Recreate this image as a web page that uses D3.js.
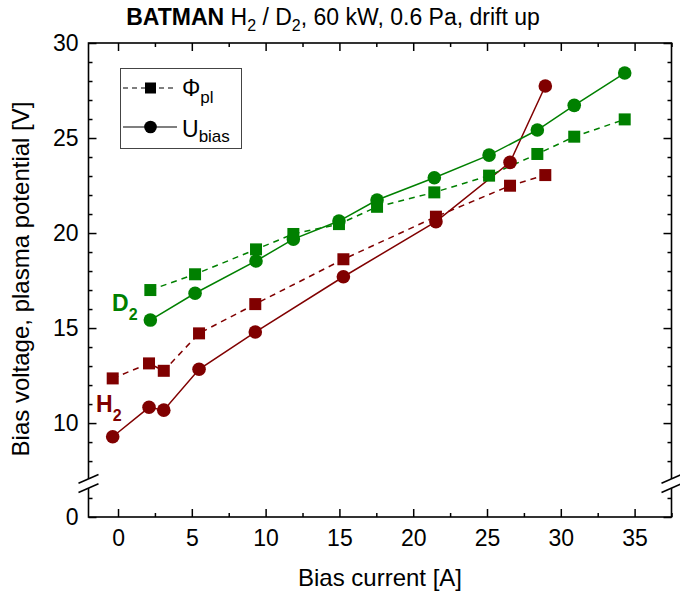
<!DOCTYPE html>
<html>
<head>
<meta charset="utf-8">
<script src="https://cdn.jsdelivr.net/npm/d3@7"></script>
<style>
  body { margin: 0; background: #fff; }
  text { font-family: "Liberation Sans", Arial, sans-serif; }
</style>
</head>
<body>
<svg width="680" height="595"></svg>
<script>
// data
const h2Current = [-0.36, 2.1, 3.1, 5.49, 9.3, 15.27, 21.54, 26.56, 28.95];
const h2Phi = [12.35, 13.14, 12.75, 14.72, 16.26, 18.62, 20.86, 22.49, 23.05];
const h2Ubias = [9.28, 10.83, 10.68, 12.83, 14.79, 17.7, 20.6, 23.72, 27.74];

const d2Current = [2.19, 5.22, 9.35, 11.88, 14.97, 17.55, 21.43, 25.14, 28.41, 30.91, 34.33];
const d2Phi = [17.0, 17.83, 19.14, 19.95, 20.47, 21.38, 22.14, 23.02, 24.16, 25.07, 25.98];
const d2Ubias = [15.42, 16.83, 18.53, 19.68, 20.63, 21.74, 22.91, 24.1, 25.42, 26.72, 28.42];

const xTicks = [0, 5, 10, 15, 20, 25, 30, 35];
const xMinor = [2.5, 7.5, 12.5, 17.5, 22.5, 27.5, 32.5, 37.5];
const yTicks = [0, 10, 15, 20, 25, 30];
const yMinor = [1, 8, 9, 11, 12, 13, 14, 16, 17, 18, 19, 21, 22, 23, 24, 26, 27, 28, 29];

var svg = d3.select('svg');

const red = '#800000';
const green = '#008000';

const plot = {left: 88.5, right: 671.5, top: 43, bottom: 517};
const yBreak = 483.5;

const xScale = d3.scaleLinear()
  .domain([-2, 37.5])
  .range([plot.left, plot.right]);

// broken axis: 0..1.76 below the break, 6.82..30 above it
const yScale = d3.scaleLinear()
  .domain([0, 1.76, 6.82, 30])
  .range([plot.bottom, yBreak, yBreak, plot.top]);

// title
const title = svg.append('text')
  .attr('x', 333).attr('y', 25)
  .attr('text-anchor', 'middle')
  .style('font-size', '23px');
title.append('tspan').style('font-weight', 'bold').text('BATMAN');
title.append('tspan').text(' H');
title.append('tspan').attr('dy', 6).style('font-size', '16px').text('2');
title.append('tspan').attr('dy', -6).text(' / D');
title.append('tspan').attr('dy', 6).style('font-size', '16px').text('2');
title.append('tspan').attr('dy', -6).text(', 60 kW, 0.6 Pa, drift up');

// axes
function styleAxis(g) {
  g.select('.domain').remove();
  g.selectAll('line').attr('stroke', '#000').attr('stroke-width', 1.5);
  g.selectAll('text').style('font-size', '23px').attr('fill', '#000')
    .style('font-family', '"Liberation Sans", Arial, sans-serif');
}

svg.append('g').attr('transform', `translate(${plot.left},0)`)
  .call(d3.axisLeft(yScale).tickValues(yTicks).tickSize(-8).tickPadding(10))
  .call(styleAxis);
svg.append('g').attr('transform', `translate(${plot.left},0)`)
  .call(d3.axisLeft(yScale).tickValues(yMinor).tickSize(-4).tickFormat(''))
  .call(styleAxis);
svg.append('g').attr('transform', `translate(${plot.right},0)`)
  .call(d3.axisRight(yScale).tickValues(yTicks).tickSize(-8).tickFormat(''))
  .call(styleAxis);
svg.append('g').attr('transform', `translate(${plot.right},0)`)
  .call(d3.axisRight(yScale).tickValues(yMinor).tickSize(-4).tickFormat(''))
  .call(styleAxis);

svg.append('g').attr('transform', `translate(0,${plot.bottom})`)
  .call(d3.axisBottom(xScale).tickValues(xTicks).tickSize(-8).tickPadding(13))
  .call(styleAxis);
svg.append('g').attr('transform', `translate(0,${plot.bottom})`)
  .call(d3.axisBottom(xScale).tickValues(xMinor).tickSize(-4).tickFormat(''))
  .call(styleAxis);
svg.append('g').attr('transform', `translate(0,${plot.top})`)
  .call(d3.axisTop(xScale).tickValues(xTicks).tickSize(-8).tickFormat(''))
  .call(styleAxis);
svg.append('g').attr('transform', `translate(0,${plot.top})`)
  .call(d3.axisTop(xScale).tickValues(xMinor).tickSize(-4).tickFormat(''))
  .call(styleAxis);

// frame
svg.append('rect')
  .attr('x', plot.left).attr('y', plot.top)
  .attr('width', plot.right - plot.left).attr('height', plot.bottom - plot.top)
  .attr('fill', 'none').attr('stroke', '#000').attr('stroke-width', 1.6);

// axis break marks
[plot.left, plot.right].forEach(x0 => {
  svg.append('polygon')
    .attr('points', [[x0 - 9, yBreak - 0.6], [x0 + 9, yBreak - 8.6], [x0 + 9, yBreak + 0.6], [x0 - 9, yBreak + 8.6]].join(' '))
    .attr('fill', '#fff');
  [-4.6, 4.6].forEach(off => {
    svg.append('line')
      .attr('x1', x0 - 10).attr('y1', yBreak + off + 4.4)
      .attr('x2', x0 + 10).attr('y2', yBreak + off - 4.4)
      .attr('stroke', '#000').attr('stroke-width', 1.5);
  });
});

// axis titles
svg.append('text')
  .attr('x', (plot.left + plot.right) / 2).attr('y', 586)
  .attr('text-anchor', 'middle')
  .style('font-size', '24px')
  .text('Bias current [A]');

svg.append('text')
  .attr('transform', 'translate(29,279) rotate(-90)')
  .attr('text-anchor', 'middle')
  .style('font-size', '24px')
  .text('Bias voltage, plasma potential [V]');

// series
const series = [
  { xs: h2Current, ys: h2Phi, color: red, dashed: true, marker: 'square' },
  { xs: h2Current, ys: h2Ubias, color: red, dashed: false, marker: 'circle' },
  { xs: d2Current, ys: d2Phi, color: green, dashed: true, marker: 'square' },
  { xs: d2Current, ys: d2Ubias, color: green, dashed: false, marker: 'circle' }
];

const line = d3.line()
  .x(d => xScale(d[0]))
  .y(d => yScale(d[1]));

series.forEach(s => {
  const pts = s.xs.map((x, i) => [x, s.ys[i]]);
  svg.append('path')
    .datum(pts)
    .attr('d', line)
    .attr('fill', 'none')
    .attr('stroke', s.color)
    .attr('stroke-width', 1.5)
    .attr('stroke-dasharray', s.dashed ? '6,5' : null);
});

series.forEach(s => {
  const pts = s.xs.map((x, i) => [x, s.ys[i]]);
  if (s.marker === 'square') {
    svg.selectAll(null).data(pts)
      .enter().append('rect')
      .attr('x', d => xScale(d[0]) - 6)
      .attr('y', d => yScale(d[1]) - 6)
      .attr('width', 12).attr('height', 12)
      .attr('fill', s.color);
  } else {
    svg.selectAll(null).data(pts)
      .enter().append('circle')
      .attr('cx', d => xScale(d[0]))
      .attr('cy', d => yScale(d[1]))
      .attr('r', 6.8)
      .attr('fill', s.color);
  }
});

// series labels
const d2Label = svg.append('text')
  .attr('x', 112).attr('y', 311)
  .attr('fill', green).style('font-weight', 'bold').style('font-size', '23px');
d2Label.append('tspan').text('D');
d2Label.append('tspan').attr('dy', 9).style('font-size', '16px').text('2');

const h2Label = svg.append('text')
  .attr('x', 96).attr('y', 412)
  .attr('fill', red).style('font-weight', 'bold').style('font-size', '23px');
h2Label.append('tspan').text('H');
h2Label.append('tspan').attr('dy', 9).style('font-size', '16px').text('2');

// legend
const legend = svg.append('g');
legend.append('rect')
  .attr('x', 120.5).attr('y', 68.5)
  .attr('width', 121).attr('height', 80)
  .attr('fill', '#fff').attr('stroke', '#444').attr('stroke-width', 1);

legend.append('line')
  .attr('x1', 123).attr('x2', 177).attr('y1', 88).attr('y2', 88)
  .attr('stroke', '#000').attr('stroke-width', 1.2).attr('stroke-dasharray', '5,4');
legend.append('rect')
  .attr('x', 145).attr('y', 82.5).attr('width', 11).attr('height', 11)
  .attr('fill', '#000');
const phiText = legend.append('text')
  .attr('x', 182).attr('y', 96).style('font-size', '23px');
phiText.append('tspan').text('\u03A6');
phiText.append('tspan').attr('dy', 7).style('font-size', '17px').text('pl');

legend.append('line')
  .attr('x1', 123).attr('x2', 177).attr('y1', 127).attr('y2', 127)
  .attr('stroke', '#000').attr('stroke-width', 1.2);
legend.append('circle')
  .attr('cx', 150.5).attr('cy', 127).attr('r', 6.3)
  .attr('fill', '#000');
const uText = legend.append('text')
  .attr('x', 182).attr('y', 137).style('font-size', '23px');
uText.append('tspan').text('U');
uText.append('tspan').attr('dy', 5).style('font-size', '17px').text('bias');
</script>
</body>
</html>
